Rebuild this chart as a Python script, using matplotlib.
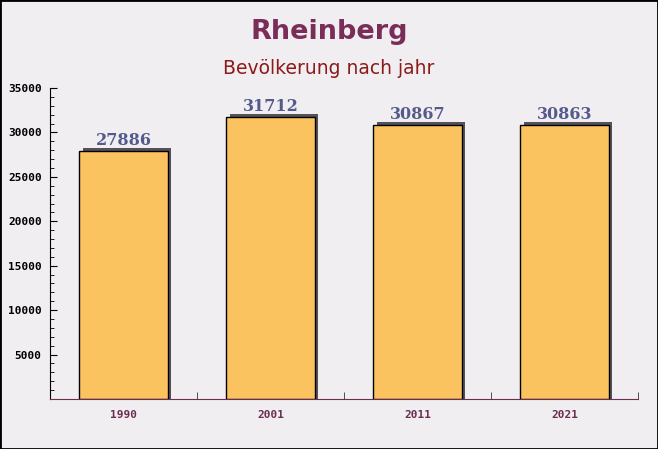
import matplotlib.pyplot as plt
from matplotlib.ticker import MultipleLocator
import numpy as np

years = ["1990", "2001", "2011", "2021"]
population = [27886, 31712, 30867, 30863]

W, H = 658, 449
fig = plt.figure(figsize=(W / 100, H / 100), dpi=100)
fig.patch.set_facecolor("#f1eef1")

# axes placed in pixel coords: x 50..638, y 88..399
ax = fig.add_axes([50 / W, 1 - 399 / H, 588 / W, (399 - 88) / H])
ax.set_facecolor("none")

x = np.arange(len(years))
bw = 0.6
# shadow offset (~3 px right and up)
dx = 3.5 * 4 / 588
dy = 3 * 35000 / 311
ax.bar(x + dx, np.array(population) + dy, width=bw, bottom=0,
       color="#565156", zorder=1)
ax.bar(x, population, width=bw, bottom=0, color="#fbc35f",
       edgecolor="black", linewidth=1, zorder=2)

for xi, v in zip(x, population):
    ax.text(xi, v + 250, str(v), ha="center", va="bottom",
            fontsize=11.5, fontweight="bold", family="DejaVu Serif",
            color="#545a8c", zorder=3)

ax.set_xlim(-0.5, 3.5)
ax.set_ylim(0, 35000)
ax.set_xticks(x)
ax.set_xticklabels(years)
ax.set_xticks(x + 0.5, minor=True)
ax.tick_params(axis="x", which="major", length=0, pad=8)
ax.tick_params(axis="x", which="minor", direction="in", length=5, color="#333333")
ax.set_yticks(range(5000, 35001, 5000))
ax.yaxis.set_minor_locator(MultipleLocator(1000))
ax.tick_params(axis="y", which="major", direction="in", length=5, pad=6)
ax.tick_params(axis="y", which="minor", direction="in", length=3)

for lab in ax.get_xticklabels():
    lab.set_family("DejaVu Sans Mono")
    lab.set_fontweight("bold")
    lab.set_fontsize(8)
    lab.set_color("#6b2d50")
for lab in ax.get_yticklabels():
    lab.set_family("DejaVu Sans Mono")
    lab.set_fontweight("bold")
    lab.set_fontsize(8)
    lab.set_color("black")

for s in ["top", "right"]:
    ax.spines[s].set_visible(False)
ax.spines["left"].set_color("black")
ax.spines["bottom"].set_color("#6b2d50")

fig.text(0.5, 1 - 32 / H, "Rheinberg", ha="center", va="center",
         fontsize=19.5, fontweight="bold", color="#7b2d5a")
fig.text(0.5, 1 - 68 / H, "Bevölkerung nach jahr", ha="center", va="center",
         fontsize=13.5, color="#8b1a1a")

# figure border
fig.add_artist(plt.Rectangle((0, 0), 1, 1, transform=fig.transFigure,
                             fill=False, edgecolor="black", linewidth=2))

fig.savefig("out.png", dpi=100, facecolor=fig.get_facecolor())
